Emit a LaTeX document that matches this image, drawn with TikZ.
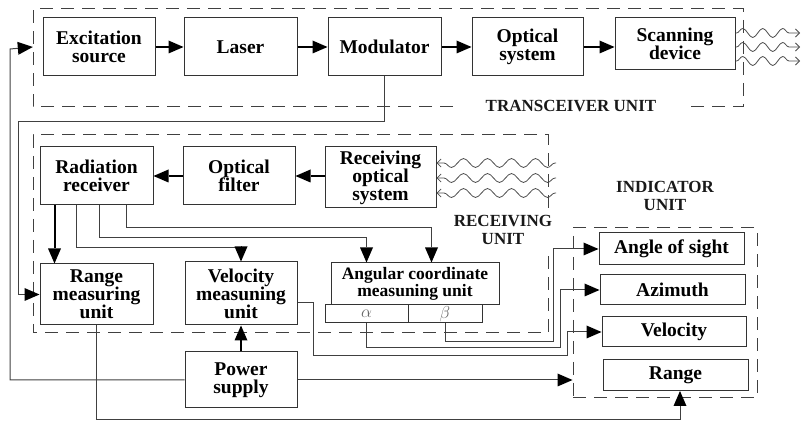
\documentclass[tikz,border=0pt]{standalone}
\usepackage{fontspec}
\setmainfont{Liberation Serif}
\usetikzlibrary{arrows.meta,decorations.pathmorphing,calc}
\begin{document}
\begin{tikzpicture}[x=1pt,y=-1pt,
  blk/.style={draw=black!80, line width=1pt, inner sep=0pt, align=center,
    font=\bfseries\fontsize{19.5}{18}\selectfont, text=black},
  sz/.style 2 args={minimum width=#1pt, minimum height=#2pt},
  greek/.style={draw=black!80, line width=1pt, inner sep=0pt, text=black!60,
    font=\fontsize{19}{19}\selectfont},
  unitbox/.style={draw=black!75, line width=1pt, dash pattern=on 13pt off 8pt},
  wire/.style={draw=black!75, line width=1pt},
  arr/.style={wire, -{Triangle[length=15pt,width=13pt,fill=black,line width=0pt]}},
  thick arr/.style={arr, draw=black, line width=2.6pt},
  wave/.style={draw=black!70, line width=0.8pt, decorate,
    decoration={snake, amplitude=4.5pt, segment length=#1, pre length=1pt, post length=4pt},
    -{Straight Barb[length=4pt,width=8pt]}},
  lbl/.style={font=\bfseries\fontsize{17}{17.5}\selectfont, align=center, text=black!90}]
\useasboundingbox (0,0) rectangle (807,422);

% unit frames (named)
\node[inner sep=0pt, sz={710}{98}] (trx) at (388,58) {};
\node[inner sep=0pt, sz={515}{198}] (rcv) at (290.5,234) {};
\node[unitbox, inner sep=0pt, sz={184}{170}] (ind) at (665,313) {};
\draw[unitbox] (453,107) -| (33,9) -| (743,107) -- (687,107);
\draw[unitbox] (548,208) -- (548,135) -| (33,333) -| (548,253);

% labels
\node[lbl] (trxl) at (571,106) {TRANSCEIVER UNIT};
\node[lbl] (rcvl) at (503,230) {RECEIVING\\UNIT};
\node[lbl] (indl) at (665,196) {INDICATOR\\UNIT};

% transceiver row
\node[blk, sz={112}{58}] (exc) at (99,47) {Excitation\\source};
\node[blk, sz={113}{58}] (las) at (240.5,47) {Laser};
\node[blk, sz={113}{58}] (mod) at (384.5,47) {Modulator};
\node[blk, sz={111}{58}] (opt) at (527.5,47) {Optical\\system};
\node[blk, sz={120}{52}] (scan) at (675,44) {Scanning\\device};

% receiving row
\node[blk, sz={113}{58}] (rr) at (96.5,176) {Radiation\\receiver};
\node[blk, sz={112}{58}] (of) at (239,176) {Optical\\filter};
\node[blk, sz={111}{61}] (ros) at (380.5,177.5) {Receiving\\optical\\system};

% measuring units
\node[blk, sz={113}{61}] (rmu) at (96.5,294.5) {Range\\measuring\\unit};
\node[blk, sz={112}{63}] (vmu) at (241,293.5) {Velocity\\measuning\\unit};
\node[blk, sz={168}{42}, font=\bfseries\fontsize{17.5}{17.5}\selectfont] (au) at (415,284) {Angular coordinate\\measuning unit};
\node[greek, sz={83}{18}] (al) at (366.5,314) {$\alpha$};
\node[greek, sz={74}{18}] (be) at (445,314) {$\beta$};
\node[blk, sz={112}{56}] (ps) at (241,380) {Power\\supply};

% indicator boxes
\node[blk, sz={145}{32}] (aos) at (671.5,249) {Angle of sight};
\node[blk, sz={145}{30}] (az) at (672.5,290) {Azimuth};
\node[blk, sz={144}{30}] (vel) at (674,332) {Velocity};
\node[blk, sz={145}{31}] (rng) at (675.5,375.5) {Range};

% transceiver chain
\draw[thick arr] (exc.east) -- (las.west);
\draw[thick arr] (las.east) -- (mod.west);
\draw[thick arr] (mod.east) -- (opt.west);
\draw[thick arr] (opt.east) -- (opt.east -| scan.west);

% emitted waves
\coordinate (t1) at (800,33);
\coordinate (t2) at (800,47);
\coordinate (t3) at (800,61);
\foreach \t in {t1,t2,t3}{\draw[wave=20pt] (scan.east |- \t) -- (\t);}

% received waves
\coordinate (r1) at (556,163);
\coordinate (r2) at (556,178);
\coordinate (r3) at (556,193);
\foreach \r in {r1,r2,r3}{\draw[wave=24pt] (\r) -- (ros.east |- \r);}

% receiving chain
\draw[thick arr] (ros.west |- of.east) -- (of.east);
\draw[thick arr] (of.west) -- (rr.east);

% from radiation receiver
\draw[thick arr, line width=2pt] ([xshift=15pt]rr.south west) -- ([xshift=15pt]rmu.north west);
\draw[arr] ([xshift=37pt]rr.south west) -- ++(0,42) -| (vmu.north);
\draw[arr] ([xshift=60pt]rr.south west) -- ++(0,32) -| ([xshift=36pt]au.north west);
\draw[arr] ([xshift=87pt]rr.south west) -- ++(0,22) -| ([xshift=101pt]au.north west);

% modulator feedback to range unit
\draw[arr] (mod.south) |- (18,122) |- (rmu.west);

% power supply lines
\draw[thick arr, line width=2pt] (ps.north) -- (vmu.south);
\draw[arr] (ps.west) -| (10,49) -- (exc.west -| trx.west);
\draw[arr] (ps.east) -- (ps.east -| ind.west);

% outputs to indicator
\draw[arr] (be.south) -- (445,342) -- (553,342) |- (aos.west);
\draw[arr] (al.south) -- (366.5,348) -- (560,348) |- (az.west);
\draw[arr] ([yshift=-9.5pt]vmu.east) -- (313,303) -- (313,356) -- (567,356) |- (vel.west);
\draw[arr] (rmu.south) |- (680,420) -- (680,391);
\end{tikzpicture}
\end{document}
